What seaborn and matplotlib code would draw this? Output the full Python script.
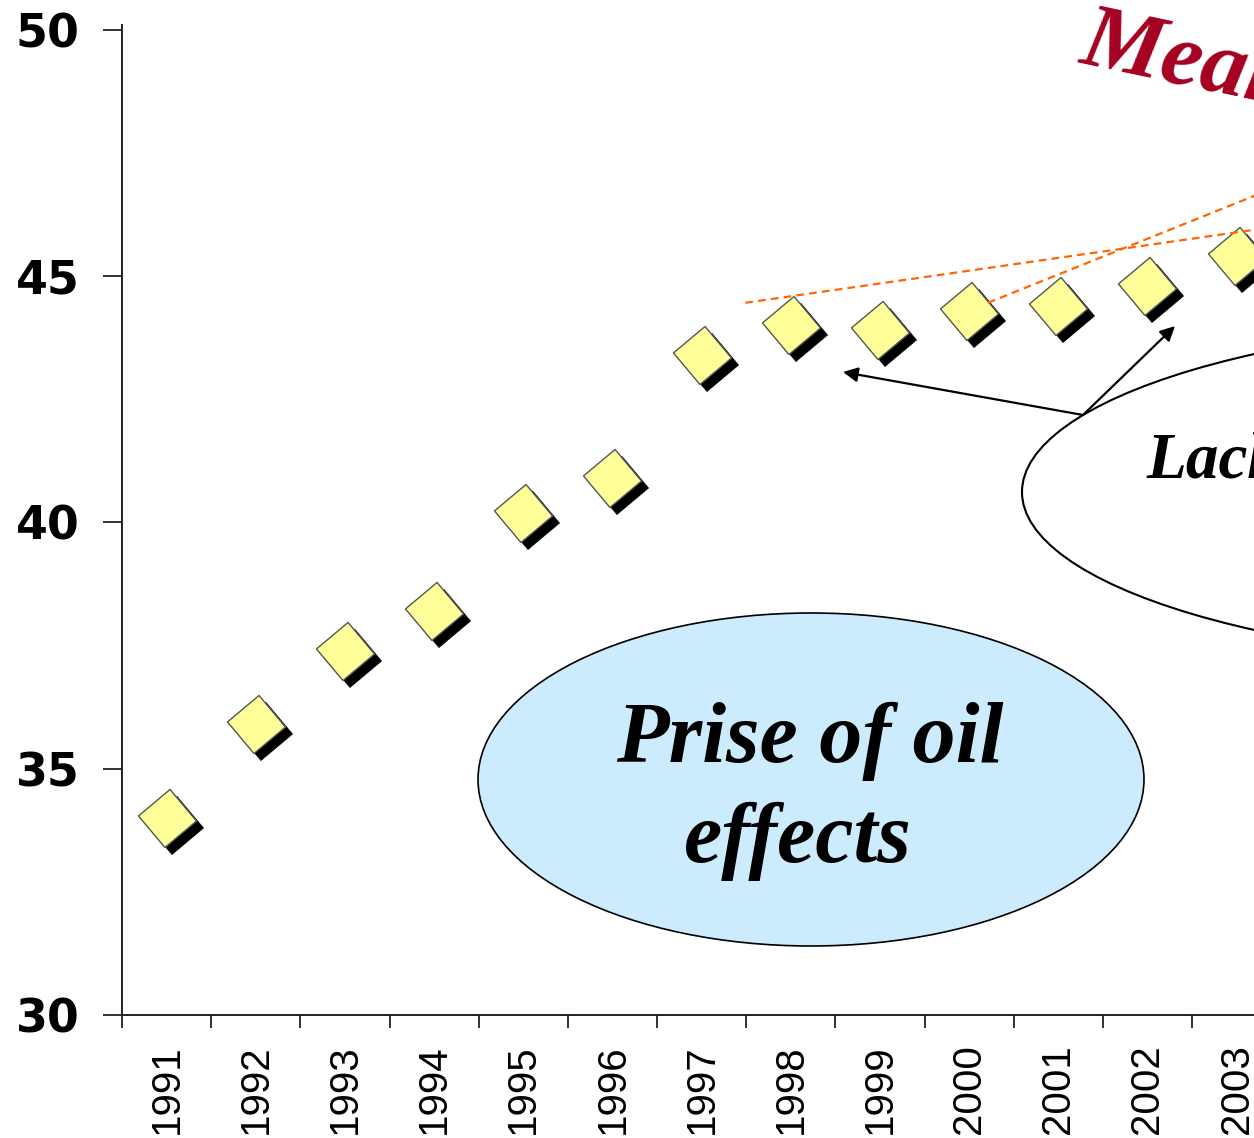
import matplotlib
matplotlib.use("Agg")
import matplotlib.pyplot as plt
import seaborn as sns
import pandas as pd
from matplotlib import font_manager
from matplotlib.patches import Ellipse, FancyArrowPatch
from matplotlib.markers import MarkerStyle
from matplotlib.transforms import Affine2D, offset_copy

# ---- data -------------------------------------------------------------
years = [1991, 1992, 1993, 1994, 1995, 1996, 1997,
         1998, 1999, 2000, 2001, 2002, 2003]
share = [34.0, 35.9, 37.4, 38.2, 40.2, 40.9, 43.4,
         44.0, 43.9, 44.3, 44.4, 44.8, 45.4]
y_ticks = [30, 35, 40, 45, 50]

# dashed guide lines (year, value)
guide_long_x = [1997.49, 2005.0]
guide_long_y = [44.46, 46.41]
guide_steep_x = [2000.21, 2005.0]
guide_steep_y = [44.46, 47.94]

df = pd.DataFrame({"year": years, "share": share})

# ---- figure / axes ----------------------------------------------------
W, H = 1254, 1138
sns.set_style("ticks")
plt.rcParams["font.family"] = ["Liberation Sans", "DejaVu Sans"]
plt.rcParams["text.color"] = "black"
plt.rcParams["xtick.color"] = "#222222"
plt.rcParams["ytick.color"] = "#222222"
plt.rcParams["xtick.labelcolor"] = "black"
plt.rcParams["ytick.labelcolor"] = "black"

installed = {f.name for f in font_manager.fontManager.ttflist}
if "Liberation Sans Narrow" in installed:
    year_font, year_size = "Liberation Sans Narrow", 35
else:
    year_font, year_size = "Liberation Sans", 29

fig = plt.figure(figsize=(W / 100, H / 100), dpi=100)
fig.patch.set_facecolor("white")
ax = fig.add_axes([122 / W, (H - 1015) / H, (W - 122) / W, 990 / H])
ax.set_facecolor("white")


def fx(px):
    return px / W


def fy(py):
    return 1 - py / H


# diamonds with a drop shadow
diamond = MarkerStyle("s", transform=Affine2D().rotate_deg(40))
sns.scatterplot(data=df, x="year", y="share", marker=diamond, s=880,
                color="black", edgecolor="black", linewidth=0.5,
                ax=ax, zorder=2, legend=False)
ax.collections[-1].set_offset_transform(
    offset_copy(ax.transData, fig=fig, x=7, y=-7, units="dots"))
sns.scatterplot(data=df, x="year", y="share", marker=diamond, s=880,
                color="#FFFF99", edgecolor="#555555", linewidth=1.0,
                ax=ax, zorder=3, legend=False)

# orange dashed guides
for gx, gy in [(guide_long_x, guide_long_y), (guide_steep_x, guide_steep_y)]:
    sns.lineplot(x=gx, y=gy, color="#FF6600", linewidth=1.6,
                 linestyle=(0, (3.5, 2.3)), ax=ax, zorder=4)

# axes styling
ax.set_yticks(y_ticks)
ax.set_yticklabels([str(t) for t in y_ticks], fontsize=33,
                   fontweight="bold", family="DejaVu Sans")
ax.set_xticks(years)
ax.set_xticklabels([str(y) for y in years], rotation=90,
                   fontsize=year_size, family=year_font)
ax.set_xticks([y - 0.5 for y in years], minor=True)
ax.set_xlim(1990.5, 1990.5 + (W - 122) / 89.17)
ax.set_ylim(30, 50.1)
ax.tick_params(axis="x", which="major", length=0, pad=21)
ax.tick_params(axis="x", which="minor", length=9, width=1.3, direction="out")
ax.tick_params(axis="y", which="major", length=13.7, width=1.3,
               direction="out", pad=17)
ax.set_xlabel("")
ax.set_ylabel("")
for side in ["top", "right"]:
    ax.spines[side].set_visible(False)
for side in ["left", "bottom"]:
    ax.spines[side].set_linewidth(1.4)
    ax.spines[side].set_color("#222222")

# ---- annotations ------------------------------------------------------
serif = ["Liberation Serif", "DejaVu Serif"]

blue = Ellipse((fx(811), fy(779.5)), 666 / W, 333 / H, transform=fig.transFigure,
               facecolor="#CCEBFC", edgecolor="black", linewidth=1.2)
fig.add_artist(blue)
white = Ellipse((fx(1603), fy(492)), 1162 / W, 345 / H, transform=fig.transFigure,
                facecolor="white", edgecolor="black", linewidth=1.5)
fig.add_artist(white)

for tip in [(843, 372), (1175, 326)]:
    arr = FancyArrowPatch((fx(1083), fy(415)), (fx(tip[0]), fy(tip[1])),
                          transform=fig.transFigure, arrowstyle="-|>",
                          mutation_scale=22, color="black", linewidth=1.6,
                          shrinkA=0, shrinkB=0)
    fig.add_artist(arr)

fig.text(fx(810), fy(762), "Prise of oil", family=serif, fontsize=62,
         fontweight="bold", fontstyle="italic", ha="center", va="baseline",
         color="black")
fig.text(fx(798), fy(862), "effects", family=serif, fontsize=62,
         fontweight="bold", fontstyle="italic", ha="center", va="baseline",
         color="black")
fig.text(fx(1146), fy(478), "Lack", family=serif, fontsize=47,
         fontweight="bold", fontstyle="italic", ha="left", va="baseline",
         color="black")
fig.text(fx(1077), fy(62), "Mean", family=serif, fontsize=66, color="#A50021",
         fontweight="bold", fontstyle="italic", ha="left", va="baseline",
         rotation=-12, rotation_mode="anchor")

fig.savefig("out.png", dpi=100)
